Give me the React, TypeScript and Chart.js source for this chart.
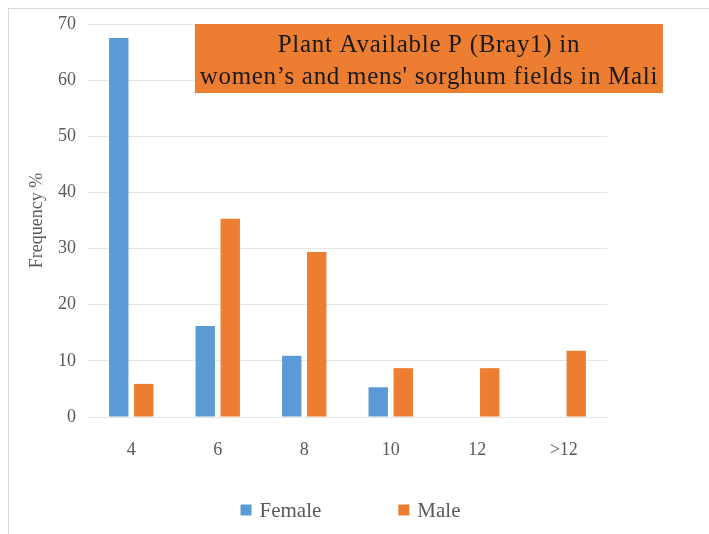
import React, { useEffect, useRef } from "react";
import { Chart, registerables } from "chart.js";

Chart.register(...registerables);

const categories = ["4", "6", "8", "10", "12", ">12"];
const femaleValues = [67.5, 16.2, 10.9, 5.3, 0, 0];
const maleValues = [5.9, 35.3, 29.4, 8.7, 8.7, 11.8];
const seriesNames = ["Female", "Male"];
const yAxisTitle = "Frequency %";
const titleLines = ["Plant Available P (Bray1) in", "women\u2019s and mens' sorghum fields in Mali"];

const BLUE = "#5B9BD5";
const ORANGE = "#ED7D31";
const SERIF = "'Liberation Serif', 'DejaVu Serif', serif";

const W = 709;
const H = 534;

const decorPlugin = {
  id: "decor",
  beforeDraw(chart: any) {
    const ctx = chart.ctx;
    ctx.save();
    ctx.fillStyle = "#ffffff";
    ctx.fillRect(0, 0, chart.width, chart.height);
    ctx.strokeStyle = "#d9d9d9";
    ctx.lineWidth = 1;
    ctx.strokeRect(8.5, 8.5, chart.width + 10, chart.height + 10);
    ctx.restore();
  },
  afterDraw(chart: any) {
    const ctx = chart.ctx;
    const area = chart.chartArea;
    ctx.save();
    // title box
    const bx = area.left + (area.right - area.left) * 0.206;
    const bw = 468;
    const by = area.top;
    const bh = 69;
    ctx.fillStyle = ORANGE;
    ctx.fillRect(bx, by, bw, bh);
    ctx.fillStyle = "#1a1a1a";
    ctx.textAlign = "center";
    ctx.textBaseline = "middle";
    ctx.font = `25px ${SERIF}`;
    (ctx as any).letterSpacing = "0.7px";
    const cx = bx + bw / 2;
    ctx.fillText(titleLines[0], cx, by + 21);
    ctx.fillText(titleLines[1], cx, by + 53);
    (ctx as any).letterSpacing = "0px";

    // legend
    const ds = chart.data.datasets;
    ctx.font = `21px ${SERIF}`;
    const box = 11;
    const gapBoxText = 8;
    const gapItems = 77;
    const widths = ds.map((d: any) => box + gapBoxText + ctx.measureText(d.label).width);
    const total = widths.reduce((a: number, b: number) => a + b, 0) + gapItems * (ds.length - 1);
    let x = (area.left + area.right) / 2 + 3 - total / 2;
    const ly = 510;
    ctx.textAlign = "left";
    ds.forEach((d: any, i: number) => {
      ctx.fillStyle = d.backgroundColor;
      ctx.fillRect(x, ly - box / 2, box, box);
      ctx.fillStyle = "#595959";
      ctx.fillText(d.label, x + box + gapBoxText, ly + 1);
      x += widths[i] + gapItems;
    });
    ctx.restore();
  },
};

export default function App() {
  const ref = useRef<HTMLCanvasElement | null>(null);
  useEffect(() => {
    if (!ref.current) return;
    const chart = new Chart(ref.current, {
      type: "bar",
      data: {
        labels: categories,
        datasets: [
          { label: seriesNames[0], data: femaleValues, backgroundColor: BLUE, borderWidth: 0 },
          { label: seriesNames[1], data: maleValues, backgroundColor: ORANGE, borderWidth: 0 },
        ],
      },
      options: {
        responsive: false,
        animation: false,
        layout: { padding: { left: 22, right: 102, top: 24, bottom: 67 } },
        datasets: { bar: { categoryPercentage: 0.578, barPercentage: 0.776 } },
        plugins: {
          legend: { display: false },
          tooltip: { enabled: false },
          title: { display: false },
        },
        scales: {
          x: {
            grid: { display: false, drawTicks: false },
            border: { display: true, color: "#e6e6e6" },
            ticks: { color: "#595959", font: { family: SERIF, size: 18 }, padding: 22 },
            afterFit: (s: any) => { s.height = 50; },
          },
          y: {
            min: 0,
            max: 70,
            ticks: { stepSize: 10, color: "#595959", font: { family: SERIF, size: 18 }, padding: 12 },
            grid: { color: "#e6e6e6", drawTicks: false },
            border: { display: false },
            title: { display: true, text: yAxisTitle, color: "#595959", font: { family: SERIF, size: 18 }, padding: { top: 4, bottom: 4 } },
            afterFit: (s: any) => { s.width = 66; },
          },
        },
      },
      plugins: [decorPlugin],
    });
    return () => chart.destroy();
  }, []);
  return (
    <div style={{ position: "absolute", left: 0, top: 0, width: W, height: H }}>
      <canvas ref={ref} width={W} height={H} style={{ width: W, height: H, display: "block" }} />
    </div>
  );
}
